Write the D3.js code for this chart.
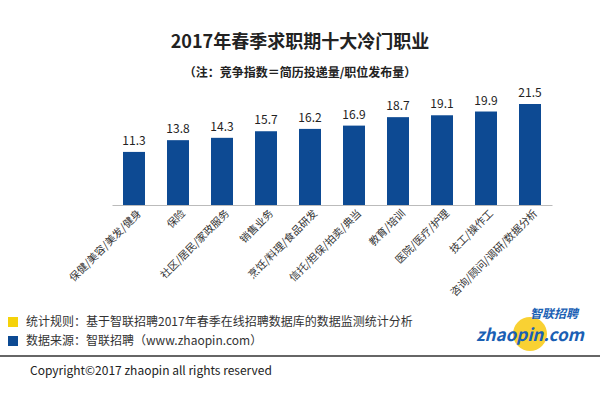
<!DOCTYPE html><html><head><meta charset="utf-8"><script src="https://cdn.jsdelivr.net/npm/d3@7"></script>
<style>body{margin:0;background:#fff}text{font-family:"Noto Sans CJK SC","Noto Sans",sans-serif}</style></head><body><svg id="c" width="600" height="400"></svg><script>
const categories=["保健/美容/美发/健身","保险","社区/居民/家政服务","销售业务","烹饪/料理/食品研发","信托/担保/拍卖/典当","教育/培训","医院/医疗/护理","技工/操作工","咨询/顾问/调研/数据分析"];
const values=[11.3,13.8,14.3,15.7,16.2,16.9,18.7,19.1,19.9,21.5];
const svg=d3.select("#c");
const x=d3.scaleBand().domain(categories).range([112,552]).paddingInner(0.5).paddingOuter(0.25);
const y=d3.scaleLinear().domain([0,21.5]).range([205,104]);
svg.append("text").attr("x",300).attr("y",48).attr("text-anchor","middle").attr("font-size",18).attr("font-weight","bold").attr("fill","#222").text("2017年春季求职期十大冷门职业");
svg.append("text").attr("x",300).attr("y",77).attr("text-anchor","middle").attr("font-size",12).attr("font-weight","bold").attr("fill","#222").text("（注：竞争指数＝简历投递量/职位发布量）");
svg.selectAll("rect.b").data(values).join("rect").attr("class","b").attr("x",(d,i)=>x(categories[i])).attr("width",x.bandwidth()).attr("y",d=>y(d)).attr("height",d=>y(0)-y(d)).attr("fill","#0d4a93");
svg.selectAll("text.v").data(values).join("text").attr("class","v").attr("x",(d,i)=>x(categories[i])+x.bandwidth()/2).attr("y",d=>y(d)-7).attr("text-anchor","middle").attr("font-size",12).attr("fill","#222").text(d=>d.toFixed(1));
const ax=svg.append("g").attr("transform","translate(0,205)").call(d3.axisBottom(x).tickSize(0).tickFormat(""));
ax.select(".domain").attr("stroke","#bbb");
svg.selectAll("text.c").data(categories).join("text").attr("class","c").attr("font-size",10.5).attr("fill","#333").attr("text-anchor","end")
 .attr("transform",d=>`translate(${x(d)+x.bandwidth()/2+8},214) rotate(-45)`).text(d=>d);
svg.append("rect").attr("x",8).attr("y",317).attr("width",10).attr("height",10).attr("fill","#f5d20a");
svg.append("rect").attr("x",8).attr("y",336).attr("width",10).attr("height",10).attr("fill","#0d4a93");
svg.append("text").attr("x",26).attr("y",326).attr("font-size",12).attr("fill","#333").text("统计规则：基于智联招聘2017年春季在线招聘数据库的数据监测统计分析");
svg.append("text").attr("x",26).attr("y",345).attr("font-size",12).attr("fill","#333").text("数据来源：智联招聘（www.zhaopin.com）");
svg.append("line").attr("x1",0).attr("x2",600).attr("y1",356).attr("y2",356).attr("stroke","#333").attr("stroke-width",1.5);
svg.append("text").attr("x",30).attr("y",375).attr("font-size",12).attr("fill","#222").text("Copyright©2017 zhaopin all rights reserved");
svg.append("circle").attr("cx",530).attr("cy",334).attr("r",17).attr("fill","#f7c600").attr("opacity",0.8);
svg.append("text").attr("x",578).attr("y",318).attr("text-anchor","end").attr("font-size",12).attr("font-weight","bold").attr("font-style","italic").attr("fill","#1a5fb4").text("智联招聘");
svg.append("text").attr("x",584).attr("y",341).attr("text-anchor","end").attr("font-size",17).attr("font-weight","bold").attr("font-style","italic").attr("fill","#1a5fb4").text("zhaopin.com");
</script></body></html>
